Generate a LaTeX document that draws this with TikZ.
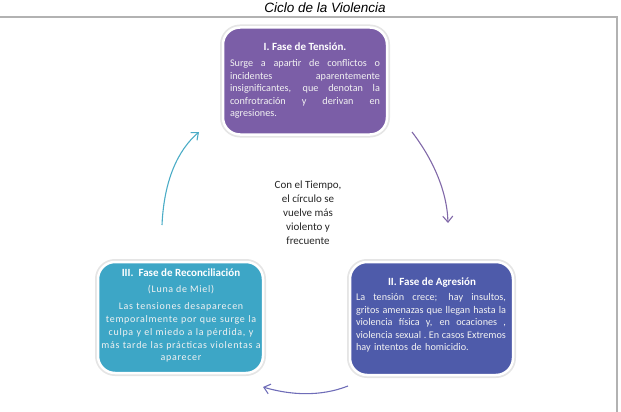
\documentclass[tikz,border=0pt]{standalone}
\usepackage{fontspec}
\setmainfont{Carlito}
\newfontfamily\arialfont{Liberation Sans}
\newfontfamily\spacedfont[LetterSpace=7]{Carlito}
\usetikzlibrary{arrows.meta}
\definecolor{purpbox}{HTML}{7B5EA7}
\definecolor{bluebox}{HTML}{4E5BAA}
\definecolor{tealbox}{HTML}{3DA6C6}
\definecolor{tealarrow}{HTML}{4BACC6}
\definecolor{purparrow}{HTML}{8068A8}
\definecolor{bluearrow}{HTML}{6F6DB8}
\definecolor{boxtext}{HTML}{F2F2F2}
\tikzset{
  phase/.style={rounded corners=17pt, draw=white, line width=2.5pt,
    preaction={draw=black!10, line width=6pt}, inner sep=0pt},
  boxtitle/.style={text=white, font=\bfseries\fontsize{11}{13}\selectfont, inner sep=0pt},
  boxbody/.style={text=boxtext, font=\fontsize{10.2}{12.5}\selectfont, inner sep=0pt},
  cyclearrow/.style={line width=1.1pt, -{Straight Barb[length=6pt,width=10pt]}},
}
\newcommand{\jline}[1]{\makebox[150pt][s]{\spaceskip=.25em plus 1fil\relax\xspaceskip=\spaceskip #1}}
\begin{document}
\begin{tikzpicture}[x=1pt,y=-1pt]
\useasboundingbox (0,0) rectangle (621,412);
% frame
\draw[gray!60, line width=1.2pt] (0,17) -- (617,17) -- (617,412);
% title
\node[font=\arialfont\itshape\fontsize{13.5}{15}\selectfont, inner sep=0pt] (title) at (325,8) {Ciclo de la Violencia};
% boxes
\node[phase, fill=purpbox, minimum width=164pt, minimum height=107pt] (top) at (305,81) {};
\node[phase, fill=bluebox, minimum width=163pt, minimum height=113pt] (right) at (431.5,318.5) {};
\node[phase, fill=tealbox, minimum width=165pt, minimum height=111pt] (left) at (180.5,317.5) {};
% top text
\node[boxtitle] (toptitle) at (305,47) {I. Fase de Tensión.};
\node[boxbody, text width=150pt, align=left, anchor=north] (topbody) at (305,59.5)
 {\jline{Surge a apartir de conflictos o}\\
  \jline{incidentes aparentemente}\\
  \jline{insignificantes, que denotan la}\\
  \jline{confrotración y derivan en}\\
  agresiones.};
% right text
\node[boxtitle] (righttitle) at (432,283) {II. Fase de Agresión};
\node[boxbody, text width=150pt, align=left, anchor=north] (rightbody) at (431,293.5)
 {\jline{La tensión crece; hay insultos,}\\
  \jline{gritos amenazas que llegan hasta la}\\
  \jline{violencia física y, en ocaciones ,}\\
  \jline{violencia sexual . En casos Extremos}\\
  hay intentos de homicidio.};
% left text
\node[boxtitle] (lefttitle) at (181,273) {III.\ \ Fase de Reconciliación};
\node[boxbody, font=\spacedfont\fontsize{10}{12.8}\selectfont] (leftsub) at (181,290) {(Luna de Miel)};
\node[boxbody, font=\spacedfont\fontsize{10}{12.8}\selectfont, text width=185pt, align=center, anchor=north] (leftbody) at (181,302.5)
 {Las tensiones desaparecen\\
  temporalmente por que surge la\\
  culpa y el miedo a la pérdida, y\\
  más tarde las prácticas violentas a\\
  aparecer};
% center text
\node[text=black!85, font=\fontsize{11}{14}\selectfont, align=center, inner sep=0pt] (center) at (308,213)
 {Con el Tiempo,\\el círculo se\\vuelve más\\violento y\\frecuente};
% arrows
\coordinate (la1) at (162,225);
\coordinate (la2) at (199,132);
\coordinate (ra1) at (412,132);
\coordinate (ra2) at (448,223);
\coordinate (ba1) at (348,386);
\coordinate (ba2) at (263,387);
\draw[cyclearrow, tealarrow] (la1) .. controls (164,180) and (178,150) .. (la2);
\draw[cyclearrow, purparrow] (ra1) .. controls (432,158) and (447,190) .. (ra2);
\draw[cyclearrow, bluearrow] (ba1) .. controls (320,397) and (290,395) .. (ba2);
\end{tikzpicture}
\end{document}
